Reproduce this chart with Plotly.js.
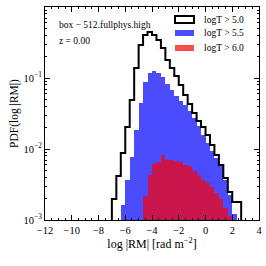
<!DOCTYPE html>
<html>
<head>
<meta charset="utf-8">
<script src="https://cdn.plot.ly/plotly-3.0.1.min.js"></script>
<style>
html,body{margin:0;padding:0;background:#fff;}
#chart{width:266px;height:266px;}
</style>
</head>
<body>
<div id="chart"></div>
<script>
// Histogram bins: log|RM| from -7 in steps of 1/3 dex
const firstEdge = -7;
const binWidth = 1 / 3;
const nBins = 29;

// PDF values per bin (null = empty)
const pdfT50 = [0.00198, 0.00417, 0.00879, 0.0204, 0.049, 0.138, 0.292, 0.403, 0.445, 0.403,
                0.343, 0.265, 0.179, 0.138, 0.107, 0.0797, 0.0576, 0.043, 0.0321, 0.0248,
                0.0204, 0.0157, 0.0114, 0.00823, 0.00595, 0.00391, 0.00248, 0.00179, 0.00179];
const pdfT55 = [null, null, 0.00163, 0.00366, 0.00771, 0.0185, 0.0445, 0.0879, 0.1175, 0.1256,
                0.1175, 0.103, 0.0823, 0.0677, 0.0557, 0.0474, 0.0417, 0.0343, 0.0273, 0.0211,
                0.0157, 0.0122, 0.00937, 0.00747, 0.00576, 0.00366, 0.00225, 0.00122, null];
const pdfT60 = [null, null, null, null, null, null, null, 0.00218, 0.0043, 0.00615,
                0.00656, 0.00823, 0.007, 0.007, 0.00678, 0.00656, 0.00595, 0.00576, 0.0049, 0.0043,
                0.00366, 0.00332, 0.00292, 0.0024, 0.00198, 0.00148, 0.00114, null, null];

const legendLabels = ['logT > 5.0', 'logT > 5.5', 'logT > 6.0'];
const xTickVals = [-12, -10, -8, -6, -4, -2, 0, 2, 4];
const xTickText = ['\u221212', '\u221210', '\u22128', '\u22126', '\u22124', '\u22122', '0', '2', '4'];
const yTickVals = [0.001, 0.01, 0.1, 1];
const yTickText = ['10<sup>\u22123</sup>', '10<sup>\u22122</sup>', '10<sup>\u22121</sup>', '10<sup>0</sup>'];

const centers = [];
for (let i = 0; i < nBins; i++) centers.push(firstEdge + (i + 0.5) * binWidth);

// step outline for the logT>5 histogram
const stepX = [], stepY = [];
const floorVal = 1e-6;
stepX.push(firstEdge); stepY.push(floorVal);
for (let i = 0; i < nBins; i++) {
  stepX.push(firstEdge + i * binWidth); stepY.push(pdfT50[i]);
  stepX.push(firstEdge + (i + 1) * binWidth); stepY.push(pdfT50[i]);
}
stepX.push(firstEdge + nBins * binWidth); stepY.push(floorVal);

const serif = 'Liberation Serif, Times New Roman, serif';

const traces = [
  {type: 'bar', x: centers, y: pdfT55, width: binWidth,
   marker: {color: 'rgba(0,0,255,0.7)', line: {width: 0}}, showlegend: false, hoverinfo: 'skip'},
  {type: 'bar', x: centers, y: pdfT60, width: binWidth,
   marker: {color: 'rgba(255,0,0,0.7)', line: {width: 0}}, showlegend: false, hoverinfo: 'skip'},
  {type: 'scatter', mode: 'lines', x: stepX, y: stepY,
   line: {color: '#000', width: 2, shape: 'linear'}, showlegend: false, hoverinfo: 'skip'}
];

function px2x(p) { return (p - 45) / 214; }
function py2y(p) { return (220 - p) / 213; }

const legendRows = [
  {y0: 16, y1: 23, fill: 'rgba(255,255,255,1)', line: {color: '#000', width: 2}, ty: 20},
  {y0: 30, y1: 36, fill: 'rgba(0,0,255,0.7)', line: {width: 0}, ty: 33},
  {y0: 45, y1: 51, fill: 'rgba(255,0,0,0.7)', line: {width: 0}, ty: 48}
];
const shapes = legendRows.map(r => ({
  type: 'rect', xref: 'paper', yref: 'paper',
  x0: px2x(175), x1: px2x(194), y0: py2y(r.y1), y1: py2y(r.y0),
  fillcolor: r.fill, line: r.line
}));
const annotations = legendRows.map((r, i) => ({
  xref: 'paper', yref: 'paper', x: px2x(202), y: py2y(r.ty),
  xanchor: 'left', yanchor: 'middle', showarrow: false,
  text: legendLabels[i], font: {family: serif, size: 9.5, color: '#000'}
}));
annotations.push({xref: 'paper', yref: 'paper', x: px2x(57), y: py2y(25),
  xanchor: 'left', yanchor: 'middle', showarrow: false,
  text: 'box \u2212 512.fullphys.high', font: {family: serif, size: 9.5, color: '#000'}});
annotations.push({xref: 'paper', yref: 'paper', x: px2x(57), y: py2y(41),
  xanchor: 'left', yanchor: 'middle', showarrow: false,
  text: 'z = 0.00', font: {family: serif, size: 9.5, color: '#000'}});

const layout = {
  width: 266, height: 266,
  margin: {l: 45, r: 7, t: 7, b: 46, pad: 0},
  paper_bgcolor: '#fff', plot_bgcolor: '#fff',
  barmode: 'overlay', bargap: 0,
  showlegend: false,
  font: {family: serif, size: 10, color: '#000'},
  xaxis: {
    range: [-12, 4], tickmode: 'array', tickvals: xTickVals, ticktext: xTickText,
    ticks: 'inside', ticklen: 5, tickwidth: 1, tickcolor: '#000',
    minor: {ticks: 'inside', ticklen: 2, dtick: 0.5, tickcolor: '#000'},
    showline: true, linecolor: '#000', linewidth: 1, mirror: 'allticks',
    showgrid: false, zeroline: false,
    tickfont: {family: serif, size: 10.5},
    title: {text: 'log |RM| [rad m<sup>\u22122</sup>]', font: {family: serif, size: 12}, standoff: 4}
  },
  yaxis: {
    type: 'log', range: [-3, 0], tickmode: 'array', tickvals: yTickVals, ticktext: yTickText,
    ticks: 'inside', ticklen: 5, tickwidth: 1, tickcolor: '#000',
    minor: {ticks: 'inside', ticklen: 2, tickcolor: '#000',
            tickvals: [0.002,0.003,0.004,0.005,0.006,0.007,0.008,0.009,0.02,0.03,0.04,0.05,0.06,0.07,0.08,0.09,0.2,0.3,0.4,0.5,0.6,0.7,0.8,0.9]},
    showline: true, linecolor: '#000', linewidth: 1, mirror: 'allticks',
    showgrid: false, zeroline: false,
    tickfont: {family: serif, size: 10.5},
    title: {text: 'PDF(log |RM|)', font: {family: serif, size: 11.5}, standoff: 2}
  },
  shapes: shapes,
  annotations: annotations
};

Plotly.newPlot('chart', traces, layout, {staticPlot: true, displayModeBar: false});
</script>
</body>
</html>
